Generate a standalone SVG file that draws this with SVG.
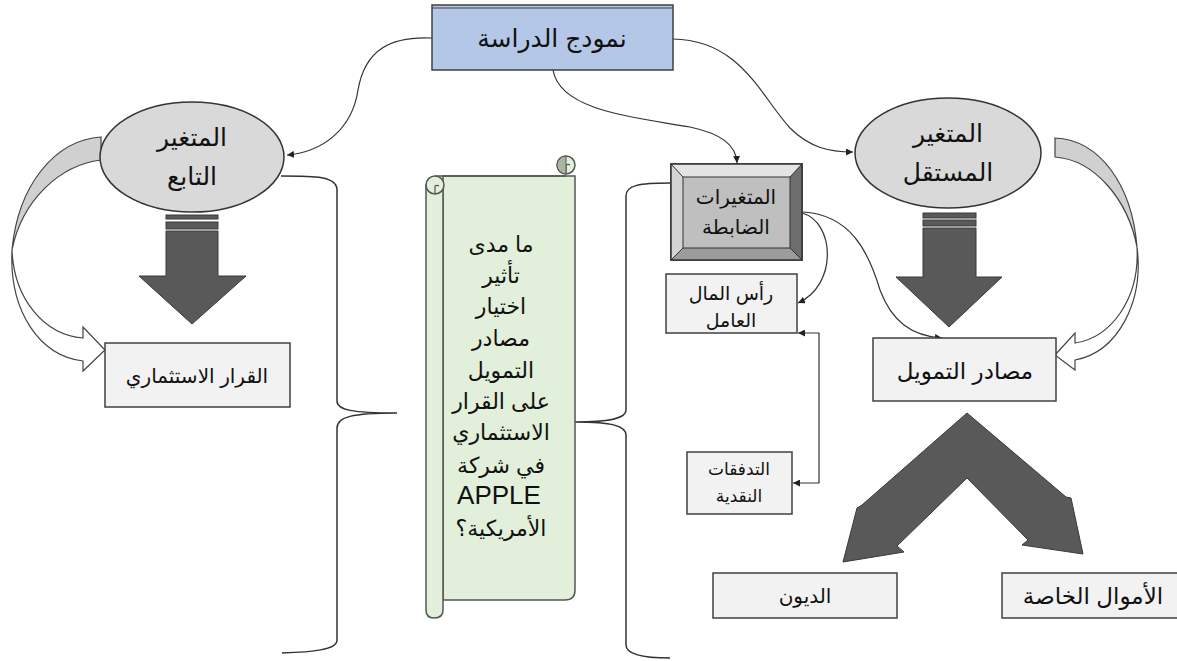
<svg xmlns="http://www.w3.org/2000/svg" width="1177" height="661" viewBox="0 0 1177 661">
<defs>
<style>
.t{font-family:"Liberation Sans","DejaVu Sans",sans-serif;fill:#111;text-anchor:middle;direction:rtl}
.box{fill:#f2f2f2;stroke:#404040;stroke-width:1.5}
.con{fill:none;stroke:#333;stroke-width:1.2}
.blk{fill:#595959;stroke:#3a3a3a;stroke-width:1}
.ell{fill:#d9d9d9;stroke:#333;stroke-width:1.5}
.scr{fill:#e2efda;stroke:#555;stroke-width:1.5}
.brace{fill:none;stroke:#333;stroke-width:1.5}
</style>
<marker id="ah" viewBox="0 0 10 10" refX="10" refY="5" markerWidth="7" markerHeight="7" orient="auto-start-reverse" markerUnits="userSpaceOnUse">
<path d="M0,0 L10,5 L0,10 Z" fill="#222"/>
</marker>
</defs>
<rect width="1177" height="661" fill="#fff"/>

<g id="connectors">
<path class="con" d="M432,38 C390,36 365,50 358,90 C352,130 322,152 287,155" marker-end="url(#ah)"/>
<path class="con" d="M673,39 C740,40 760,95 790,128 C810,148 830,152 853,152" marker-end="url(#ah)"/>
<path class="con" d="M553,70 C560,112 640,118 690,127 C722,134 736,145 737,163" marker-end="url(#ah)"/>
<path class="con" d="M802,213 C835,222 838,285 798,303" marker-end="url(#ah)"/>
<path class="con" d="M803,212 C850,215 868,250 880,290 C892,322 912,336 942,338" marker-end="url(#ah)"/>
<path class="con" d="M798,333 L819,333 L819,483 L793,483" marker-start="url(#ah)" marker-end="url(#ah)"/>
<path class="brace" d="M281,176 C315,176 337,176 337,190 V401 C337,410 352,413 397,413 C352,413 337,417 337,428 V640 C337,650 312,652 282,653"/>
<path class="brace" d="M670,183 C640,183 626,185 626,196 V410 C626,418 612,422 575,422 C612,422 626,426 626,435 V645 C626,655 645,658 670,658"/>
</g>

<g id="node-model">
<rect x="432" y="5" width="241" height="65" fill="#b4c7e7" stroke="#404040" stroke-width="1.5"/>
<line x1="432" y1="8" x2="673" y2="8" stroke="#404040" stroke-width="1"/>
<text class="t" x="552" y="47" font-size="25">نمودج الدراسة</text>
</g>

<g id="node-dependent">
<path d="M101,137 C55,140 18,185 12,250 C22,200 60,165 101,160 Z" fill="#d0d0d0" stroke="#444" stroke-width="1.2"/>
<path d="M12,250 C14,300 45,335 83,338 L83,327 L105,350 L83,371 L83,361 C40,356 9,312 12,250 Z" fill="#fff" stroke="#444" stroke-width="1.2"/>
<ellipse class="ell" cx="192" cy="157" rx="92" ry="55"/>
<text class="t" x="192" y="146" font-size="25">المتغير</text>
<text class="t" x="192" y="185" font-size="25">التابع</text>
</g>

<g id="node-dep-arrow">
<rect class="blk" x="166" y="215" width="52" height="4"/>
<rect class="blk" x="166" y="222" width="52" height="7"/>
<path class="blk" d="M166,231 H218 V276 H246 L192,324 L139,276 H166 Z"/>
</g>

<g id="node-decision">
<rect class="box" x="105" y="343" width="185" height="64"/>
<text class="t" x="197" y="383" font-size="20">القرار الاستثماري</text>
</g>

<g id="node-scroll">
<path class="scr" d="M443,176 H575 V590 Q575,600 565,600 H443 Z"/>
<path class="scr" d="M435,176 H566"/>
<circle class="scr" cx="566" cy="165" r="9"/>
<path d="M566,174 V165 A4,4 0 0 1 570,165" fill="none" stroke="#555" stroke-width="1.2"/>
<path d="M557,165 A9,9 0 0 1 566,156 V174 A9,9 0 0 1 557,165 Z" fill="#a9b7a0" stroke="#555" stroke-width="1"/>
<path class="scr" d="M426,185 V610 Q426,618 434,618 Q443,618 443,610 V185 Z"/>
<circle class="scr" cx="435" cy="185" r="9"/>
<path d="M435,194 V186 A4,4 0 0 1 439,186" fill="none" stroke="#555" stroke-width="1.2"/>
<g class="t" font-size="22">
<text x="501" y="252">ما مدى</text>
<text x="501" y="283">تأثير</text>
<text x="501" y="314">اختيار</text>
<text x="501" y="346">مصادر</text>
<text x="501" y="378">التمويل</text>
<text x="501" y="409">على القرار</text>
<text x="501" y="440">الاستثماري</text>
<text x="501" y="473">في شركة</text>
<text x="499" y="504" font-size="26">APPLE</text>
<text x="501" y="536">الأمريكية؟</text>
</g>
</g>

<g id="node-control">
<rect x="671" y="164" width="131" height="96" fill="#bfbfbf" stroke="#333" stroke-width="1.5"/>
<path d="M671,164 H802 L790,177 H683 Z" fill="#e3e3e3"/>
<path d="M671,164 L683,177 V248 L671,260 Z" fill="#d4d4d4"/>
<path d="M802,164 V260 L790,248 V177 Z" fill="#6e6e6e"/>
<path d="M671,260 H802 L790,248 H683 Z" fill="#9c9c9c"/>
<rect x="683" y="177" width="107" height="71" fill="#bfbfbf" stroke="#333" stroke-width="1"/>
<line x1="671" y1="164" x2="683" y2="177" stroke="#333"/>
<line x1="802" y1="164" x2="790" y2="177" stroke="#333"/>
<line x1="671" y1="260" x2="683" y2="248" stroke="#333"/>
<line x1="802" y1="260" x2="790" y2="248" stroke="#333"/>
<rect x="671" y="164" width="131" height="96" fill="none" stroke="#333" stroke-width="1.5"/>
<text class="t" x="736" y="204" font-size="20">المتغيرات</text>
<text class="t" x="736" y="234" font-size="20">الضابطة</text>
</g>

<g id="node-working-capital">
<rect class="box" x="666" y="274" width="131" height="59"/>
<text class="t" x="731" y="300" font-size="19">رأس المال</text>
<text class="t" x="731" y="327" font-size="19">العامل</text>
</g>

<g id="node-cashflow">
<rect class="box" x="687" y="452" width="105" height="62"/>
<text class="t" x="739" y="475" font-size="17">التدفقات</text>
<text class="t" x="739" y="502" font-size="17">النقدية</text>
</g>

<g id="node-independent">
<path d="M1055,138 C1100,140 1132,185 1137,247 C1128,200 1095,160 1055,157 Z" fill="#d0d0d0" stroke="#444" stroke-width="1.2"/>
<path d="M1137,247 C1140,300 1110,338 1075,343 L1075,333 L1055,355 L1075,370 L1075,360 C1118,352 1144,302 1137,247 Z" fill="#fff" stroke="#444" stroke-width="1.2"/>
<ellipse class="ell" cx="948" cy="153" rx="93" ry="55"/>
<text class="t" x="948" y="142" font-size="25">المتغير</text>
<text class="t" x="948" y="181" font-size="25">المستقل</text>
</g>

<g id="node-ind-arrow">
<rect class="blk" x="923" y="213" width="53" height="5"/>
<rect class="blk" x="923" y="220" width="53" height="6"/>
<path class="blk" d="M923,228 H976 V277 H1002 L949,327 L896,277 H923 Z"/>
</g>

<g id="node-sources">
<rect class="box" x="873" y="338" width="183" height="63"/>
<text class="t" x="965" y="379" font-size="23">مصادر التمويل</text>
</g>

<g id="node-split-arrow">
<path class="blk" d="M967,413 L1066,497 L1071,498 L1083,554 L1022,545 L1028,540 L967,478 L897,546 L904,552 L843,562 L857,508 L862,505 Z"/>
</g>

<g id="node-debt">
<rect class="box" x="713" y="573" width="184" height="45"/>
<text class="t" x="805" y="603" font-size="20">الديون</text>
</g>

<g id="node-equity">
<rect class="box" x="1002" y="573" width="180" height="45"/>
<text class="t" x="1093" y="604" font-size="23">الأموال الخاصة</text>
</g>
</svg>
